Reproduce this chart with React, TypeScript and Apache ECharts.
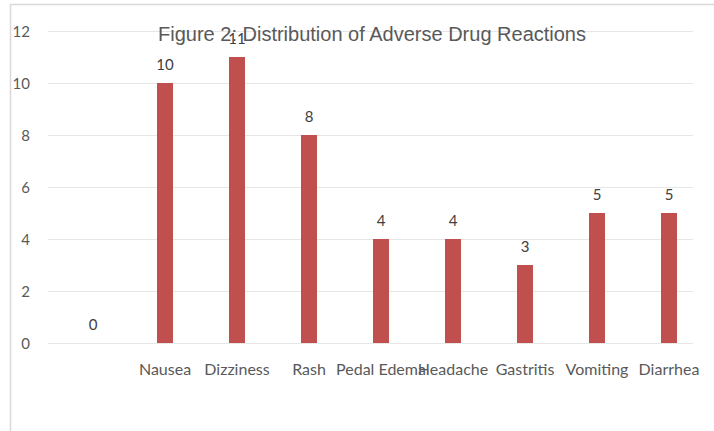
import React, { useEffect, useRef } from "react";
import * as echarts from "echarts";

const categories = ["", "Nausea", "Dizziness", "Rash", "Pedal Edema", "Headache", "Gastritis", "Vomiting", "Diarrhea"];
const counts = [0, 10, 11, 8, 4, 4, 3, 5, 5];
const yTicks = { min: 0, max: 12, interval: 2 };
const titleText = "Figure 2: Distribution of Adverse Drug Reactions";

export default function App() {
  const ref = useRef<HTMLDivElement>(null);
  useEffect(() => {
    if (!ref.current) return;
    const chart = echarts.init(ref.current, null, { renderer: "svg" });
    chart.setOption({
      animation: false,
      backgroundColor: "#ffffff",
      title: {
        text: titleText,
        left: 367,
        textAlign: "center",
        top: 19,
        textStyle: { fontFamily: "Liberation Sans", fontSize: 20, fontWeight: "normal", color: "#595959" },
        z: 10,
      },
      graphic: [
        { type: "line", shape: { x1: 10, y1: 4.5, x2: 714, y2: 4.5 }, style: { stroke: "#d9d9d9", lineWidth: 1.5 } },
        { type: "line", shape: { x1: 10.5, y1: 4, x2: 10.5, y2: 431 }, style: { stroke: "#d9d9d9", lineWidth: 1.5 } },
      ],
      grid: [
        { left: 57, right: 9, top: 31, bottom: 88, containLabel: false },
        { left: 48, right: 21, top: 31, bottom: 88, containLabel: false },
      ],
      xAxis: [
        {
          type: "category",
          gridIndex: 0,
          data: categories,
          axisLine: { show: false },
          axisTick: { show: false },
          axisLabel: { interval: 0, color: "#595959", fontFamily: "Lato", fontSize: 16, margin: 17 },
        },
        { type: "value", gridIndex: 1, show: false, min: 0, max: 1 },
      ],
      yAxis: [
        { type: "value", gridIndex: 0, ...yTicks, show: false },
        {
          type: "value",
          gridIndex: 1,
          ...yTicks,
          axisLine: { show: false },
          axisTick: { show: false },
          axisLabel: { color: "#595959", fontFamily: "Lato", fontSize: 15, margin: 18 },
          splitLine: { lineStyle: { color: "#e6e6e6", width: 1 } },
        },
      ],
      series: [
        {
          type: "bar",
          xAxisIndex: 0,
          yAxisIndex: 0,
          data: counts,
          barWidth: 16,
          itemStyle: { color: "#c0504d" },
          label: {
            show: true,
            position: "top",
            distance: 12,
            color: "#404040",
            fontFamily: "Lato",
            fontSize: 15,
          },
        },
      ],
    });
    return () => chart.dispose();
  }, []);
  return <div ref={ref} style={{ width: 714, height: 431, position: "fixed", left: 0, top: 0 }} />;
}
